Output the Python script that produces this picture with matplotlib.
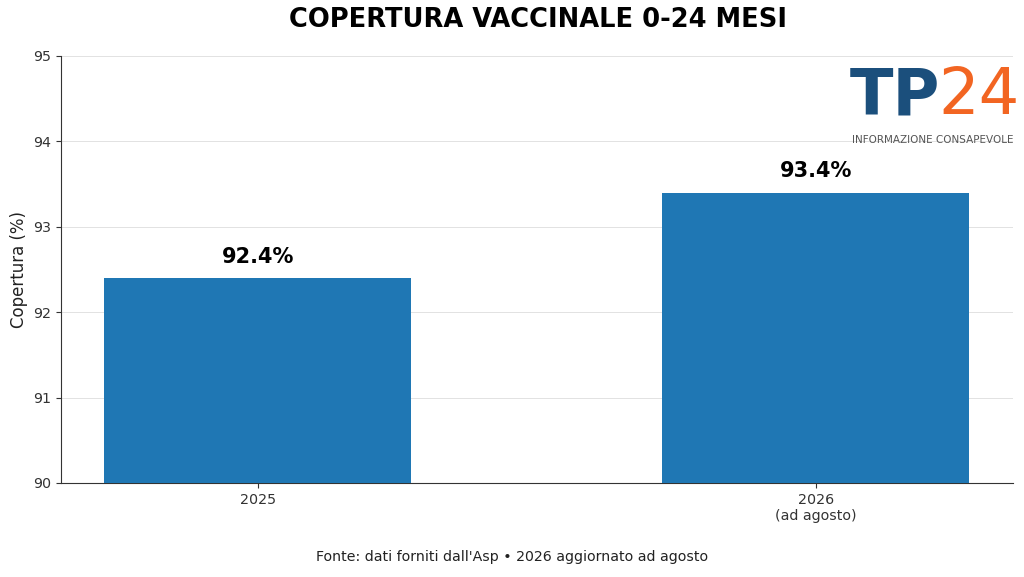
import matplotlib.pyplot as plt

# dati
anni = ["2025", "2026\n(ad agosto)"]
copertura = [92.4, 93.4]
etichette = ["92.4%", "93.4%"]
y_ticks = [90, 91, 92, 93, 94, 95]

fig = plt.figure(figsize=(10.24, 5.77), dpi=100)
ax = fig.add_axes([0.0596, 0.163, 0.9294, 0.740])

x = list(range(len(anni)))
bars = ax.bar(x, copertura, width=0.55, color="#1f77b4", zorder=3)

for b, lab in zip(bars, etichette):
    ax.annotate(lab, (b.get_x() + b.get_width() / 2, b.get_height()),
                xytext=(0, 8), textcoords="offset points",
                ha="center", va="bottom", fontsize=15, fontweight="bold")

ax.set_ylim(90, 95)
ax.set_yticks(y_ticks)
ax.set_xticks(x)
ax.set_xticklabels(anni, fontsize=10.3, color="#222222")
ax.tick_params(axis="y", labelsize=10.3, labelcolor="#222222")
ax.tick_params(colors="#333333")
ax.set_ylabel("Copertura (%)", fontsize=12, color="#222222")
ax.grid(axis="y", color="#e2e2e2", linewidth=0.7, zorder=0)
ax.spines["top"].set_visible(False)
ax.spines["right"].set_visible(False)
ax.spines["left"].set_color("#333333")
ax.spines["bottom"].set_color("#333333")

fig.suptitle("COPERTURA VACCINALE 0-24 MESI", fontsize=18.5, fontweight="bold",
             x=0.525, y=0.988)
fig.text(0.5, 0.034, "Fonte: dati forniti dall'Asp \u2022 2026 aggiornato ad agosto",
         ha="center", va="center", fontsize=10.2, color="#222222")

# logo
fig.text(0.830, 0.802, "TP", fontsize=46, fontweight="bold", color="#1b4f7c",
         ha="left", va="baseline")
fig.text(0.916, 0.802, "24", fontsize=46, color="#f26522",
         ha="left", va="baseline")
fig.text(0.832, 0.752, "INFORMAZIONE CONSAPEVOLE", fontsize=7.5, color="#555555",
         ha="left", va="baseline")

fig.savefig("out.png", dpi=100)
